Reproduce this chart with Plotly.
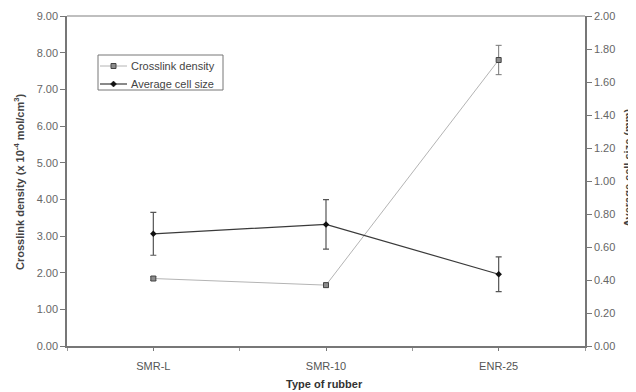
import plotly.graph_objects as go

categories = ["SMR-L", "SMR-10", "ENR-25"]
crosslink_density = [1.84, 1.66, 7.80]
crosslink_err = [0.05, 0.05, 0.40]
cell_size = [0.68, 0.737, 0.435]
cell_size_err = [0.13, 0.15, 0.105]
left_ticks = [0, 1, 2, 3, 4, 5, 6, 7, 8, 9]
right_ticks = [0, 0.2, 0.4, 0.6, 0.8, 1.0, 1.2, 1.4, 1.6, 1.8, 2.0]
series_names = ["Crosslink density", "Average cell size"]

xpos = list(range(len(categories)))
font = "Liberation Sans, Arial, sans-serif"

# page body has an 8px margin, so the figure is drawn 8px smaller and offset
OFF = 8
PL, PR, PT, PB = 67, 585, 16, 346  # plot area in page pixels

CL_LINE, CL_FILL = "#b4b4b4", "#8c8c8c"
CS_LINE, CS_FILL = "#3a3a3a", "#111111"

fig = go.Figure()
fig.add_trace(go.Scatter(
    x=xpos, y=crosslink_density, name=series_names[0], mode="lines+markers",
    line=dict(color=CL_LINE, width=1),
    marker=dict(symbol="square", size=5, color=CL_FILL, line=dict(color="#444", width=1)),
    error_y=dict(type="data", array=crosslink_err, color="#777", thickness=1, width=3),
    yaxis="y"))
fig.add_trace(go.Scatter(
    x=xpos, y=cell_size, name=series_names[1], mode="lines+markers",
    line=dict(color=CS_LINE, width=1.2),
    marker=dict(symbol="diamond", size=5, color=CS_FILL),
    error_y=dict(type="data", array=cell_size_err, color="#555", thickness=1.2, width=3),
    yaxis="y2"))

W, H = 636 - OFF, 392 - OFF
pw, ph = PR - PL, PB - PT


def px(x):
    return (x - PL) / pw


def py(y):
    return (PB - y) / ph


# custom legend box (legend geometry in page pixels)
LX0, LX1, LY0, LY1 = 98, 223, 55, 90
rows = [66, 84]
shapes = [
    dict(type="line", xref="paper", yref="paper", x0=0, x1=1, y0=1, y1=1,
         line=dict(color="#aaa", width=1.5)),
    dict(type="rect", xref="paper", yref="paper", x0=px(LX0), x1=px(LX1),
         y0=py(LY1), y1=py(LY0), line=dict(color="#777", width=1), fillcolor="white"),
    dict(type="line", xref="paper", yref="paper", x0=px(100), x1=px(127),
         y0=py(rows[0]), y1=py(rows[0]), line=dict(color=CL_LINE, width=1)),
    dict(type="rect", xref="paper", yref="paper", x0=px(111), x1=px(116),
         y0=py(rows[0] + 2.5), y1=py(rows[0] - 2.5),
         line=dict(color="#444", width=1), fillcolor=CL_FILL),
    dict(type="line", xref="paper", yref="paper", x0=px(100), x1=px(127),
         y0=py(rows[1]), y1=py(rows[1]), line=dict(color=CS_LINE, width=1.2)),
    dict(type="path", xref="paper", yref="paper",
         path="M {a},{b} L {c},{d} L {a},{e} L {f},{d} Z".format(
             a=px(113.5), b=py(rows[1] - 3), c=px(116.5), d=py(rows[1]),
             e=py(rows[1] + 3), f=px(110.5)),
         line=dict(color=CS_FILL, width=0.5), fillcolor=CS_FILL),
]

fig.update_layout(
    width=W, height=H,
    margin=dict(l=PL - OFF, r=W - (PR - OFF), t=PT - OFF, b=H - (PB - OFF)),
    paper_bgcolor="white", plot_bgcolor="white",
    font=dict(family=font, size=11, color="#555"),
    showlegend=False,
    xaxis=dict(range=[-0.5, 2.5], tickvals=xpos, ticktext=categories,
               ticks="outside", ticklen=3, tickcolor="#777", ticklabelstandoff=6,
               minor=dict(dtick=0.5, tick0=-0.5, ticks="outside", ticklen=3, tickcolor="#999"),
               showline=True, linecolor="#777", linewidth=1.5, mirror=False,
               showgrid=False, zeroline=False, automargin=False,
               tickfont=dict(size=11, color="#555")),
    yaxis=dict(range=[0, 9], tickvals=left_ticks, tickformat=".2f",
               ticks="outside", ticklen=5, tickcolor="#777",
               showline=True, linecolor="#777", linewidth=1.5,
               showgrid=False, zeroline=False, automargin=False,
               tickfont=dict(size=11, color="#666")),
    yaxis2=dict(range=[0, 2], tickvals=right_ticks, tickformat=".2f",
                overlaying="y", side="right",
                ticks="outside", ticklen=5, tickcolor="#777",
                showline=True, linecolor="#777", linewidth=1.5,
                showgrid=False, zeroline=False, automargin=False,
                tickfont=dict(size=11, color="#666")),
    shapes=shapes,
    annotations=[
        dict(text=series_names[0], xref="paper", yref="paper", x=px(129), y=py(rows[0]),
             xanchor="left", yanchor="middle", showarrow=False,
             font=dict(size=11, color="#444")),
        dict(text=series_names[1], xref="paper", yref="paper", x=px(129), y=py(rows[1]),
             xanchor="left", yanchor="middle", showarrow=False,
             font=dict(size=11, color="#444")),
        dict(text="<b>Type of rubber</b>", xref="paper", yref="paper",
             x=px(324), y=py(384), xanchor="center", yanchor="middle",
             showarrow=False, font=dict(size=11, color="#333")),
        dict(text="<b>Crosslink density (x 10<sup>-4</sup> mol/cm<sup>3</sup>)</b>",
             xref="paper", yref="paper", x=px(19), y=py(182),
             xanchor="center", yanchor="middle", textangle=-90,
             showarrow=False, font=dict(size=11, color="#444")),
        dict(text="<b>Average cell size (mm)</b>",
             xref="paper", yref="paper", x=px(628), y=py(168),
             xanchor="center", yanchor="middle", textangle=-90,
             showarrow=False, font=dict(size=11, color="#444")),
    ],
)

fig.write_html("out.html")
